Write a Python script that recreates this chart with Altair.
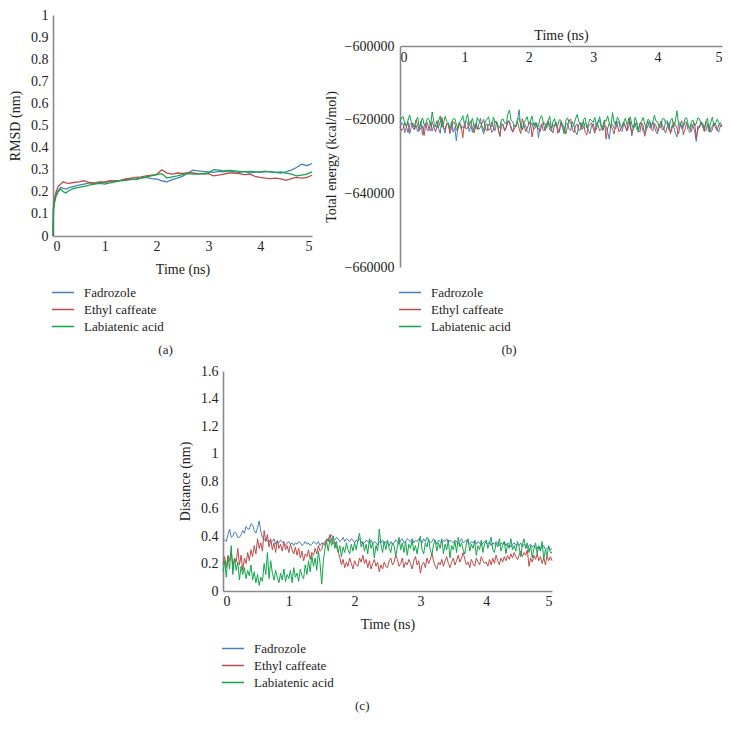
import altair as alt
import pandas as pd

SERIES = ["Fadrozole", "Ethyl caffeate", "Labiatenic acid"]
COLORS = ["#4a7ebb", "#be4b48", "#12a64a"]
FONT = "Liberation Serif"
TXT = "#222222"

# ---------------- (a) RMSD ----------------
rmsd_time = [0, 0.01, 0.03, 0.06, 0.1, 0.15, 0.2, 0.25, 0.3,
             0.4, 0.5, 0.6, 0.7, 0.8, 0.9, 1.0, 1.1, 1.2, 1.3, 1.4, 1.5, 1.6, 1.7, 1.8, 1.9,
             2.0, 2.1, 2.2, 2.3, 2.4, 2.5, 2.6, 2.7, 2.8, 2.9, 3.0, 3.1, 3.2, 3.3, 3.4, 3.5,
             3.6, 3.7, 3.8, 3.9, 4.0, 4.1, 4.2, 4.3, 4.4, 4.5, 4.6, 4.7, 4.8, 4.9, 5.0]
rmsd_fadrozole = [0.0, 0.13, 0.16, 0.19, 0.205, 0.22, 0.215, 0.212, 0.218,
                  0.225, 0.23, 0.235, 0.24, 0.238, 0.242, 0.24, 0.248, 0.25, 0.252, 0.255, 0.258, 0.255, 0.262, 0.265, 0.26,
                  0.258, 0.25, 0.245, 0.255, 0.262, 0.27, 0.285, 0.298, 0.295, 0.292, 0.29, 0.288, 0.292, 0.29, 0.295, 0.29,
                  0.288, 0.292, 0.285, 0.29, 0.288, 0.292, 0.29, 0.288, 0.285, 0.29, 0.298, 0.31, 0.325, 0.318, 0.328]
rmsd_ethyl = [0.0, 0.13, 0.17, 0.2, 0.225, 0.235, 0.245, 0.24, 0.238,
              0.242, 0.245, 0.25, 0.242, 0.24, 0.245, 0.245, 0.25, 0.248, 0.252, 0.258, 0.262, 0.265, 0.268, 0.272, 0.275,
              0.278, 0.3, 0.285, 0.28, 0.285, 0.283, 0.287, 0.285, 0.282, 0.28, 0.282, 0.272, 0.275, 0.28, 0.285, 0.285,
              0.282, 0.278, 0.28, 0.27, 0.265, 0.262, 0.26, 0.262, 0.258, 0.252, 0.26, 0.265, 0.262, 0.265, 0.275]
rmsd_labiatenic = [0.0, 0.12, 0.15, 0.18, 0.2, 0.212, 0.2, 0.195, 0.205,
                   0.215, 0.22, 0.225, 0.23, 0.235, 0.238, 0.235, 0.24, 0.245, 0.25, 0.252, 0.255, 0.258, 0.262, 0.268, 0.272,
                   0.278, 0.282, 0.262, 0.268, 0.272, 0.278, 0.282, 0.28, 0.28, 0.283, 0.285, 0.3, 0.298, 0.295, 0.297, 0.295,
                   0.292, 0.29, 0.292, 0.29, 0.29, 0.292, 0.29, 0.288, 0.29, 0.285, 0.28, 0.272, 0.275, 0.28, 0.29]

# ---------------- (b) Total energy (sampled every 0.025 ns) ----------------
energy_time = [round(i * 0.025, 3) for i in range(201)]
energy_fadrozole = [
    -622300, -620800, -621200, -623500, -621900, -620600, -623800, -622100, -620900, -622700,
    -621500, -623300, -622600, -620400, -624200, -621700, -621000, -623000, -622800, -620700,
    -623100, -621400, -622000, -620200, -622400, -623700, -619800, -622200, -623600, -621100,
    -621300, -622900, -620500, -623400, -622100, -625800, -621700, -620600, -622500, -621900,
    -622200, -620300, -620800, -623200, -621600, -623400, -622000, -620900, -622700, -621200,
    -619600, -622500, -623900, -621800, -621100, -622900, -622500, -620600, -621900, -623000,
    -620700, -622300, -624600, -621000, -621400, -623100, -622100, -620500, -620300, -622600,
    -623300, -621400, -622000, -620100, -617300, -622300, -622800, -621000, -621500, -623200,
    -623700, -621500, -620900, -622700, -622300, -620800, -624900, -621900, -621200, -623000,
    -622600, -621100, -620400, -622800, -623100, -621300, -621800, -620700, -622400, -623400,
    -620600, -622400, -623500, -621200, -621000, -622600, -622900, -620500, -621600, -623300,
    -624100, -621400, -620800, -622700, -622200, -620900, -621400, -623000, -623800, -621600,
    -621100, -622900, -622700, -620300, -620200, -622100, -623000, -621500, -621900, -623400,
    -625300, -621600, -621300, -622300, -622500, -620600, -620700, -622900, -623200, -621000,
    -621600, -623100, -622000, -620400, -624400, -621900, -620900, -622600, -622800, -621000,
    -621200, -623200, -623600, -621100, -620500, -622100, -622300, -620600, -621700, -623300,
    -623900, -621400, -621000, -622800, -622600, -620400, -620300, -622700, -623300, -621500,
    -621800, -623600, -624700, -621200, -621400, -622500, -622100, -620600, -620800, -622900,
    -623500, -621300, -621600, -623100, -625900, -621700, -622200, -620700, -620900, -622400,
    -623000, -621200, -621500, -623400, -622700, -621000, -621100, -622800, -623400, -621600,
    -621900]
energy_ethyl = [
    -621800, -623000, -622400, -620700, -621900, -623500, -621400, -620900, -622200, -622800,
    -620100, -621600, -623000, -622300, -621700, -624300, -621200, -620800, -622600, -623100,
    -620500, -621900, -623300, -622000, -621900, -620600, -619400, -622100, -622700, -621000,
    -621300, -623800, -622200, -620800, -620800, -622900, -622400, -621100, -621600, -624900,
    -621000, -622500, -622300, -620700, -620400, -622400, -623600, -621300, -621800, -622600,
    -622000, -620900, -619900, -622300, -623100, -621200, -621500, -623400, -622800, -620400,
    -620600, -622700, -624400, -621800, -621300, -622900, -622100, -620300, -620900, -621900,
    -623400, -622500, -621700, -620600, -622500, -623800, -619700, -621400, -623200, -622400,
    -621100, -620500, -624700, -622300, -620800, -621900, -622400, -623300, -621600, -620700,
    -623000, -622200, -620300, -621500, -622700, -623600, -621400, -620800, -623700, -622900,
    -620600, -621300, -622200, -623900, -621900, -620400, -619800, -622600, -623500, -621700,
    -621200, -622900, -622800, -620900, -620700, -623400, -624200, -621600, -621500, -620800,
    -622300, -623700, -620900, -621500, -623100, -622400, -621700, -620200, -625300, -622300,
    -621000, -621800, -622600, -623900, -620500, -621400, -623300, -622700, -621800, -620600,
    -622100, -623000, -619600, -621800, -623600, -622500, -621300, -620700, -622900, -623400,
    -620800, -621600, -624500, -622800, -621600, -620500, -622400, -623100, -621000, -621700,
    -623200, -622200, -620400, -621500, -622700, -623600, -621900, -620800, -623800, -622400,
    -620600, -621400, -622200, -623900, -621400, -620300, -624100, -622600, -620900, -621800,
    -622500, -623300, -621200, -620900, -625100, -622800, -621700, -620600, -622000, -623200,
    -620500, -621400, -623400, -622700, -621800, -620900, -622300, -623000, -621300, -620800,
    -621800]
energy_labiatenic = [
    -620600, -619400, -619200, -621300, -621800, -620100, -618700, -620500, -621300, -622000,
    -620100, -619300, -622400, -620800, -619500, -621400, -621000, -619600, -619900, -621700,
    -617900, -620500, -621400, -622200, -620300, -619000, -622100, -621000, -619100, -620400,
    -620800, -622300, -621600, -619800, -619700, -621200, -622600, -620600, -620200, -618900,
    -621100, -620000, -618500, -621600, -620700, -619600, -621900, -622500, -619400, -620300,
    -620900, -621800, -623000, -620400, -620000, -619200, -621500, -622000, -619300, -620700,
    -620600, -621700, -622200, -620000, -619800, -620900, -621200, -618400, -617400, -620200,
    -620500, -621900, -621700, -619900, -619600, -621300, -622800, -620700, -620100, -619200,
    -621300, -620400, -619000, -621500, -620800, -622100, -621900, -619600, -618900, -620700,
    -621000, -622300, -620300, -619100, -622400, -620600, -619700, -621800, -621600, -620000,
    -620200, -621700, -623800, -620300, -619500, -620600, -620900, -622000, -621400, -619800,
    -618600, -620400, -621100, -622500, -620000, -619500, -622300, -621100, -619800, -620300,
    -620700, -619400, -621800, -620900, -619200, -621500, -622700, -620100, -620400, -619000,
    -621000, -622200, -618100, -620700, -621500, -619300, -620100, -621600, -622000, -620600,
    -619600, -621400, -620800, -619200, -621300, -622500, -619400, -620500, -623400, -621000,
    -620500, -619400, -621200, -622300, -619900, -620200, -621700, -620700, -618800, -620400,
    -620600, -621900, -622100, -619800, -619700, -620900, -621000, -622600, -620300, -619600,
    -621900, -620500, -617600, -621000, -620800, -622100, -621400, -619700, -619500, -621300,
    -622500, -620400, -620200, -621700, -621100, -619500, -619800, -621000, -621600, -622300,
    -620400, -619600, -622900, -620800, -619300, -621600, -621000, -619900, -620700, -621800,
    -621500]

# ---------------- (c) Distance (sampled every 0.025 ns) ----------------
dist_time = [round(i * 0.025, 3) for i in range(201)]
dist_fadrozole = [
    0.38, 0.37, 0.36, 0.41, 0.45, 0.39, 0.40, 0.43, 0.42, 0.39, 0.39, 0.41, 0.44, 0.42, 0.47, 0.45, 0.45, 0.49, 0.48, 0.44,
    0.42, 0.46, 0.51, 0.43, 0.39, 0.37, 0.38, 0.36, 0.37, 0.35, 0.36, 0.38, 0.34, 0.36, 0.35, 0.37, 0.36, 0.34, 0.33, 0.35,
    0.36, 0.34, 0.35, 0.33, 0.35, 0.34, 0.36, 0.35, 0.33, 0.34, 0.36, 0.34, 0.35, 0.33, 0.34, 0.36, 0.35, 0.34, 0.36, 0.33,
    0.35, 0.34, 0.36, 0.37, 0.38, 0.40, 0.41, 0.38, 0.37, 0.39, 0.38, 0.36, 0.37, 0.39, 0.36, 0.38, 0.37, 0.36, 0.38, 0.37,
    0.35, 0.37, 0.36, 0.38, 0.36, 0.34, 0.35, 0.37, 0.36, 0.35, 0.37, 0.34, 0.36, 0.35, 0.33, 0.36, 0.35, 0.37, 0.34, 0.36,
    0.35, 0.33, 0.36, 0.34, 0.35, 0.37, 0.36, 0.34, 0.37, 0.38, 0.35, 0.36, 0.38, 0.37, 0.36, 0.38, 0.35, 0.37, 0.36, 0.38,
    0.37, 0.35, 0.38, 0.36, 0.39, 0.37, 0.35, 0.36, 0.38, 0.36, 0.34, 0.37, 0.36, 0.35, 0.37, 0.36, 0.38, 0.35, 0.37, 0.36,
    0.35, 0.37, 0.36, 0.34, 0.36, 0.38, 0.35, 0.36, 0.37, 0.35, 0.34, 0.36, 0.35, 0.37, 0.34, 0.36, 0.35, 0.33, 0.35, 0.36,
    0.35, 0.34, 0.36, 0.33, 0.35, 0.34, 0.36, 0.35, 0.33, 0.35, 0.34, 0.36, 0.33, 0.35, 0.34, 0.32, 0.34, 0.35, 0.33, 0.34,
    0.33, 0.35, 0.32, 0.34, 0.33, 0.31, 0.33, 0.34, 0.32, 0.33, 0.31, 0.32, 0.30, 0.32, 0.31, 0.33, 0.30, 0.31, 0.32, 0.30,
    0.31]
dist_ethyl = [
    0.20, 0.25, 0.17, 0.26, 0.22, 0.29, 0.18, 0.24, 0.21, 0.31, 0.19, 0.26, 0.15, 0.24, 0.20, 0.28, 0.22, 0.30, 0.25, 0.33,
    0.27, 0.38, 0.31, 0.35, 0.29, 0.44, 0.36, 0.41, 0.32, 0.38, 0.30, 0.35, 0.28, 0.37, 0.31, 0.34, 0.29, 0.36, 0.30, 0.33,
    0.28, 0.34, 0.30, 0.27, 0.32, 0.26, 0.31, 0.24, 0.29, 0.22, 0.27, 0.25, 0.30, 0.23, 0.28, 0.26, 0.31, 0.27, 0.33, 0.29,
    0.30, 0.35, 0.33, 0.38, 0.36, 0.41, 0.37, 0.34, 0.36, 0.32, 0.29, 0.24, 0.19, 0.23, 0.17, 0.21, 0.18, 0.24, 0.20, 0.16,
    0.22, 0.19, 0.18, 0.24, 0.21, 0.26, 0.20, 0.23, 0.17, 0.22, 0.16, 0.20, 0.23, 0.18, 0.21, 0.14, 0.19, 0.16, 0.21, 0.18,
    0.17, 0.22, 0.24, 0.19, 0.21, 0.26, 0.23, 0.18, 0.20, 0.24, 0.17, 0.21, 0.19, 0.23, 0.20, 0.16, 0.22, 0.25, 0.19, 0.22,
    0.13, 0.19, 0.21, 0.17, 0.24, 0.20, 0.23, 0.27, 0.22, 0.18, 0.16, 0.21, 0.19, 0.23, 0.18, 0.22, 0.25, 0.20, 0.17, 0.21,
    0.24, 0.19, 0.22, 0.26, 0.21, 0.24, 0.28, 0.23, 0.19, 0.21, 0.17, 0.23, 0.20, 0.18, 0.24, 0.21, 0.19, 0.25, 0.22, 0.20,
    0.21, 0.18, 0.23, 0.19, 0.24, 0.20, 0.26, 0.22, 0.19, 0.24, 0.21, 0.25, 0.22, 0.26, 0.23, 0.27, 0.24, 0.28, 0.25, 0.23,
    0.26, 0.29, 0.25, 0.28, 0.26, 0.30, 0.18, 0.24, 0.21, 0.26, 0.23, 0.27, 0.22, 0.25, 0.20, 0.24, 0.19, 0.26, 0.22, 0.25,
    0.22]
dist_labiatenic = [
    0.14, 0.22, 0.10, 0.25, 0.16, 0.33, 0.12, 0.24, 0.15, 0.21, 0.08, 0.18, 0.12, 0.17, 0.09, 0.15, 0.11, 0.19, 0.08, 0.14,
    0.06, 0.12, 0.04, 0.10, 0.07, 0.20, 0.12, 0.28, 0.09, 0.22, 0.13, 0.08, 0.15, 0.10, 0.06, 0.13, 0.08, 0.16, 0.07, 0.12,
    0.09, 0.15, 0.06, 0.17, 0.10, 0.13, 0.07, 0.16, 0.11, 0.09, 0.19, 0.12, 0.22, 0.14, 0.26, 0.18, 0.24, 0.15, 0.29, 0.20,
    0.05, 0.22, 0.31, 0.36, 0.29, 0.38, 0.33, 0.40, 0.31, 0.36, 0.28, 0.33, 0.25, 0.32, 0.28, 0.35, 0.30, 0.27, 0.34, 0.29,
    0.35, 0.30, 0.37, 0.42, 0.32, 0.36, 0.29, 0.34, 0.27, 0.38, 0.31, 0.35, 0.24, 0.33, 0.29, 0.45, 0.34, 0.28, 0.36, 0.30,
    0.37, 0.31, 0.28, 0.35, 0.33, 0.25, 0.32, 0.39, 0.30, 0.35, 0.28, 0.36, 0.26, 0.34, 0.31, 0.37, 0.29, 0.33, 0.27, 0.35,
    0.40, 0.30, 0.27, 0.35, 0.32, 0.38, 0.30, 0.26, 0.34, 0.37, 0.29, 0.35, 0.31, 0.38, 0.27, 0.34, 0.30, 0.37, 0.24, 0.33,
    0.30, 0.36, 0.28, 0.39, 0.32, 0.35, 0.30, 0.27, 0.35, 0.38, 0.29, 0.34, 0.31, 0.36, 0.26, 0.33, 0.30, 0.37, 0.28, 0.34,
    0.37, 0.31, 0.35, 0.39, 0.30, 0.28, 0.35, 0.32, 0.38, 0.29, 0.33, 0.36, 0.27, 0.34, 0.31, 0.38, 0.30, 0.33, 0.29, 0.36,
    0.32, 0.25, 0.34, 0.38, 0.31, 0.35, 0.28, 0.33, 0.24, 0.31, 0.35, 0.27, 0.33, 0.29, 0.36, 0.23, 0.30, 0.26, 0.33, 0.28,
    0.28]


def long_df(times, values_list):
    rows = []
    for order, (name, values) in enumerate(zip(SERIES, values_list)):
        for t, v in zip(times, values):
            rows.append({"t": t, "v": v, "s": name, "o": order})
    return pd.DataFrame(rows)


df_a = long_df(rmsd_time, [rmsd_fadrozole, rmsd_ethyl, rmsd_labiatenic])
df_b = long_df(energy_time, [energy_fadrozole, energy_ethyl, energy_labiatenic])
df_c = long_df(dist_time, [dist_fadrozole, dist_ethyl, dist_labiatenic])


def legend(y):
    return alt.Legend(
        title=None, orient="none", legendX=-2, legendY=y, direction="vertical",
        symbolType="stroke", symbolSize=484, symbolStrokeWidth=1.5, clipHeight=15,
        rowPadding=2, padding=0, labelFont=FONT, labelFontSize=13, labelColor=TXT,
        labelOffset=9,
    )


def color(y):
    return alt.Color("s:N", scale=alt.Scale(domain=SERIES, range=COLORS), legend=legend(y),
                     sort=SERIES)


def caption(txt, dx=0, offset=10):
    return alt.TitleParams(txt, orient="bottom", anchor="middle", frame="bounds",
                           font=FONT, fontSize=13, fontWeight="normal", color=TXT,
                           offset=offset, dx=dx)


time_vals = [0, 1, 2, 3, 4, 5]

chart_a = alt.Chart(df_a, title=caption("(a)", 4)).mark_line(strokeWidth=1.3).encode(
    x=alt.X("t:Q", scale=alt.Scale(domain=[0, 5], nice=False),
            axis=alt.Axis(values=time_vals, format="d", title="Time (ns)",
                          labelPadding=3, titlePadding=9)),
    y=alt.Y("v:Q", scale=alt.Scale(domain=[0, 1], nice=False),
            axis=alt.Axis(values=[0, 0.1, 0.2, 0.3, 0.4, 0.5, 0.6, 0.7, 0.8, 0.9, 1.0],
                          format=".1~f", title="RMSD (nm)", labelPadding=5, titlePadding=8)),
    color=color(270),
    order="o:Q",
).properties(width=259, height=221)

chart_b = alt.Chart(df_b, title=caption("(b)", -15)).mark_line(strokeWidth=1.0).encode(
    x=alt.X("t:Q", scale=alt.Scale(domain=[0, 5], nice=False),
            axis=alt.Axis(values=time_vals, format="d", title="Time (ns)", orient="top",
                          labelBaseline="top", labelPadding=-4, titlePadding=4, tickSize=0)),
    y=alt.Y("v:Q", scale=alt.Scale(domain=[-660000, -600000], nice=False),
            axis=alt.Axis(values=[-660000, -640000, -620000, -600000], format="d",
                          title="Total energy (kcal/mol)", labelPadding=6, titlePadding=6)),
    color=color(239),
    order="o:Q",
).properties(width=322, height=221)

chart_c = alt.Chart(df_c, title=caption("(c)", -4)).mark_line(strokeWidth=1.0).encode(
    x=alt.X("t:Q", scale=alt.Scale(domain=[0, 5], nice=False),
            axis=alt.Axis(values=time_vals, format="d", title="Time (ns)",
                          labelPadding=3, titlePadding=9)),
    y=alt.Y("v:Q", scale=alt.Scale(domain=[0, 1.6], nice=False),
            axis=alt.Axis(values=[0, 0.2, 0.4, 0.6, 0.8, 1.0, 1.2, 1.4, 1.6],
                          format=".1~f", title="Distance (nm)", labelPadding=5, titlePadding=8)),
    color=color(270),
    order="o:Q",
).properties(width=329, height=220)

spacer = alt.Chart(pd.DataFrame({"x": [0]})).mark_point(opacity=0, size=1).encode(
    x=alt.value(0), y=alt.value(0)
).properties(width=1, height=13)

right = alt.vconcat(spacer, chart_b, spacing=0).resolve_scale(color="independent").resolve_legend(color="independent")
top = alt.hconcat(chart_a, right, spacing=9).resolve_scale(color="independent").resolve_legend(color="independent")
chart = alt.vconcat(top, chart_c, spacing=7, center=True).properties(
    padding={"left": 0, "top": 0, "right": 0, "bottom": 0}
).resolve_scale(color="independent").resolve_legend(color="independent").configure_view(
    stroke=None
).configure_axis(
    grid=False, ticks=False, domainColor="#8a8a8a", domainWidth=1.6,
    labelFont=FONT, titleFont=FONT, labelFontSize=14, titleFontSize=14,
    labelColor=TXT, titleColor=TXT, titleFontWeight="normal",
)

chart.save("out.html", embed_options={"renderer": "svg", "actions": False})
